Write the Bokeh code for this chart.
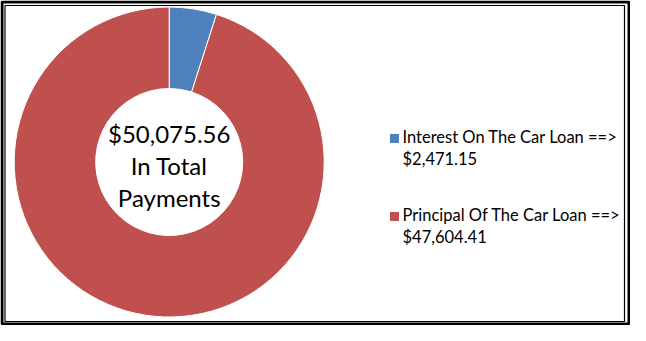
import math
from bokeh.plotting import figure
from bokeh.models import Range1d, ColumnDataSource
from bokeh.core.properties import value
from bokeh.embed import file_html
from bokeh.resources import INLINE

# ---- data ----
categories = ["Interest On The Car Loan", "Principal Of The Car Loan"]
amounts = [2471.15, 47604.41]
colors = ["#4F81BD", "#C0504D"]

total = sum(amounts)
W, H = 630, 325
FONT = "Lato"

p = figure(width=W, height=H, output_backend="svg", toolbar_location=None,
           x_range=Range1d(0, W), y_range=Range1d(0, H), min_border=0,
           background_fill_color="white", border_fill_color="white")
p.axis.visible = False
p.grid.visible = False
p.outline_line_color = None

def Y(y):  # top-down pixel -> data
    return H - y

# frames
p.quad(left=[1.5], right=[W - 1.5], top=[Y(1.5)], bottom=[Y(H - 1.5)],
       fill_color=None, line_color="black", line_width=3)
p.quad(left=[4.5], right=[624], top=[Y(5)], bottom=[Y(321)],
       fill_color=None, line_color="black", line_width=1.2)

# donut
cx, cy = 168.7, Y(161.5)
starts, ends = [], []
acc = 0.0
for a in amounts:
    s = math.pi / 2 - 2 * math.pi * acc / total
    acc += a
    e = math.pi / 2 - 2 * math.pi * acc / total
    starts.append(s)
    ends.append(e)
src = ColumnDataSource(dict(x=[cx] * len(amounts), y=[cy] * len(amounts),
                            start=starts, end=ends, color=colors))
p.annular_wedge(x="x", y="y", inner_radius=73.5, outer_radius=155,
                inner_radius_units="screen", outer_radius_units="screen",
                start_angle="start", end_angle="end", direction="clock",
                fill_color="color", line_color="white", line_width=1, source=src)

# centre text
center_lines = [f"${total:,.2f}", "In Total", "Payments"]
p.text(x=[cx] * 3, y=[Y(132.5), Y(164.5), Y(197)], text=center_lines,
       text_font=value(FONT), text_font_size="24px", text_color="black",
       text_align="center", text_baseline="middle")

# legend
leg_y = [136, 214]
for i, (cat, amt, col) in enumerate(zip(categories, amounts, colors)):
    y0 = leg_y[i]
    p.rect(x=[394], y=[Y(y0 + 2)], width=9, height=9,
           width_units="screen", height_units="screen",
           fill_color=col, line_color=None)
    p.text(x=[402, 402], y=[Y(y0), Y(y0 + 22)],
           text=[f"{cat} ==>", f"${amt:,.2f}"],
           text_font=value(FONT), text_font_size="16.5px", text_color="black",
           text_align="left", text_baseline="middle")

open("out.html", "w").write(file_html(p, INLINE))
